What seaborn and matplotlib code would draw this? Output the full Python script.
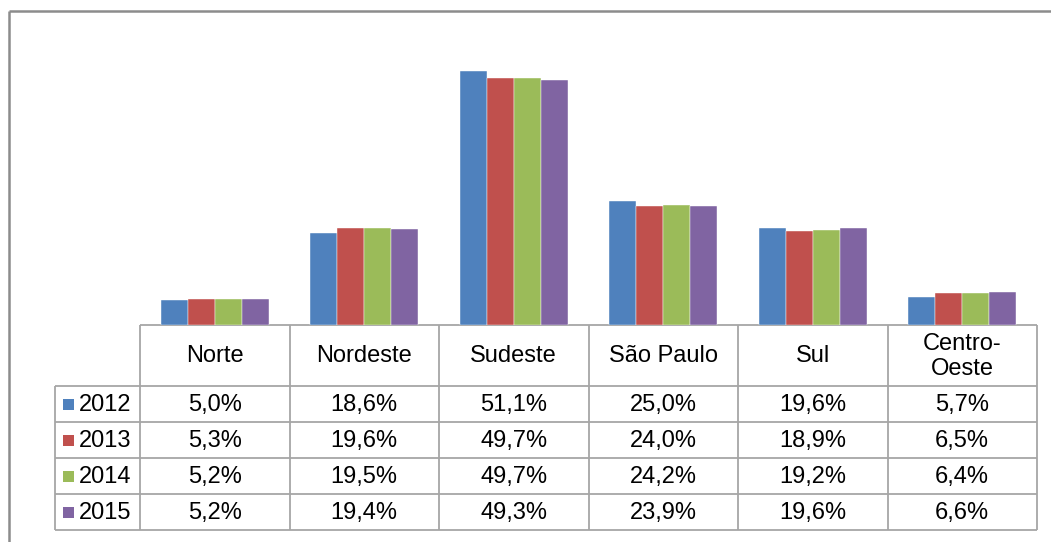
import seaborn as sns
import matplotlib.pyplot as plt
import pandas as pd

# data
regioes = ["Norte", "Nordeste", "Sudeste", "São Paulo", "Sul", "Centro-Oeste"]
rotulos = ["Norte", "Nordeste", "Sudeste", "São Paulo", "Sul", "Centro-\nOeste"]
anos = ["2012", "2013", "2014", "2015"]
v2012 = [5.0, 18.6, 51.1, 25.0, 19.6, 5.7]
v2013 = [5.3, 19.6, 49.7, 24.0, 18.9, 6.5]
v2014 = [5.2, 19.5, 49.7, 24.2, 19.2, 6.4]
v2015 = [5.2, 19.4, 49.3, 23.9, 19.6, 6.6]
cores = ["#4F81BD", "#C0504D", "#9BBB59", "#8064A2"]

valores = [v2012, v2013, v2014, v2015]
df = pd.DataFrame([(r, a, v) for a, vals in zip(anos, valores) for r, v in zip(regioes, vals)],
                  columns=["regiao", "ano", "valor"])

sns.set_style("white")
plt.rcParams["font.family"] = ["Liberation Sans", "DejaVu Sans"]

W, H = 1051, 542
fig = plt.figure(figsize=(W / 100, H / 100), dpi=100)

# layout in pixels
x0, x1 = 140, 1037
leg_x = 55
base_y, top_y = 325, 25
head_y = 386
row_h = 36
colw = (x1 - x0) / len(regioes)

ax = fig.add_axes([x0 / W, 1 - base_y / H, (x1 - x0) / W, (base_y - top_y) / H])
sns.barplot(data=df, x="regiao", y="valor", hue="ano", palette=cores, width=0.72,
            saturation=1, edgecolor="white", linewidth=0.3, legend=False, ax=ax)
ax.set_xlim(-0.5, len(regioes) - 0.5)
ax.set_ylim(0, (base_y - top_y) / 4.97)
ax.set_axis_off()

# overlay in pixel coordinates for frame and data table
ov = fig.add_axes([0, 0, 1, 1], zorder=-1)
ov.set_xlim(0, W)
ov.set_ylim(H, 0)
ov.set_axis_off()

frame_c = "#8C8C8C"
ov.plot([9, W], [11, 11], color=frame_c, lw=1.8, solid_capstyle="butt")
ov.plot([9, 9], [11, H], color=frame_c, lw=1.8, solid_capstyle="butt")

grid_c = "#A6A6A6"
bottom = head_y + row_h * len(anos)
ov.hlines(base_y, x0, x1, color=grid_c, lw=1.3)
for i in range(len(anos) + 1):
    ov.hlines(head_y + i * row_h, leg_x, x1, color=grid_c, lw=1.3)
ov.vlines(leg_x, head_y, bottom, color=grid_c, lw=1.3)
for j in range(len(regioes) + 1):
    ov.vlines(x0 + j * colw, base_y, bottom, color=grid_c, lw=1.3)

fs = 17
for j, lab in enumerate(rotulos):
    ov.text(x0 + (j + 0.5) * colw, (base_y + head_y) / 2 + 1, lab, ha="center", va="center",
            fontsize=fs, linespacing=1.15, color="black")

for i, (ano, vals, c) in enumerate(zip(anos, valores, cores)):
    yc = head_y + (i + 0.5) * row_h
    ov.add_patch(plt.Rectangle((63, yc - 5.5), 11, 11, color=c, lw=0))
    ov.text(79, yc + 1, ano, ha="left", va="center", fontsize=fs, color="black")
    for j, v in enumerate(vals):
        ov.text(x0 + (j + 0.5) * colw, yc + 1, f"{v:.1f}%".replace(".", ","),
                ha="center", va="center", fontsize=fs, color="black")

fig.savefig("out.png", dpi=100, facecolor="white")
